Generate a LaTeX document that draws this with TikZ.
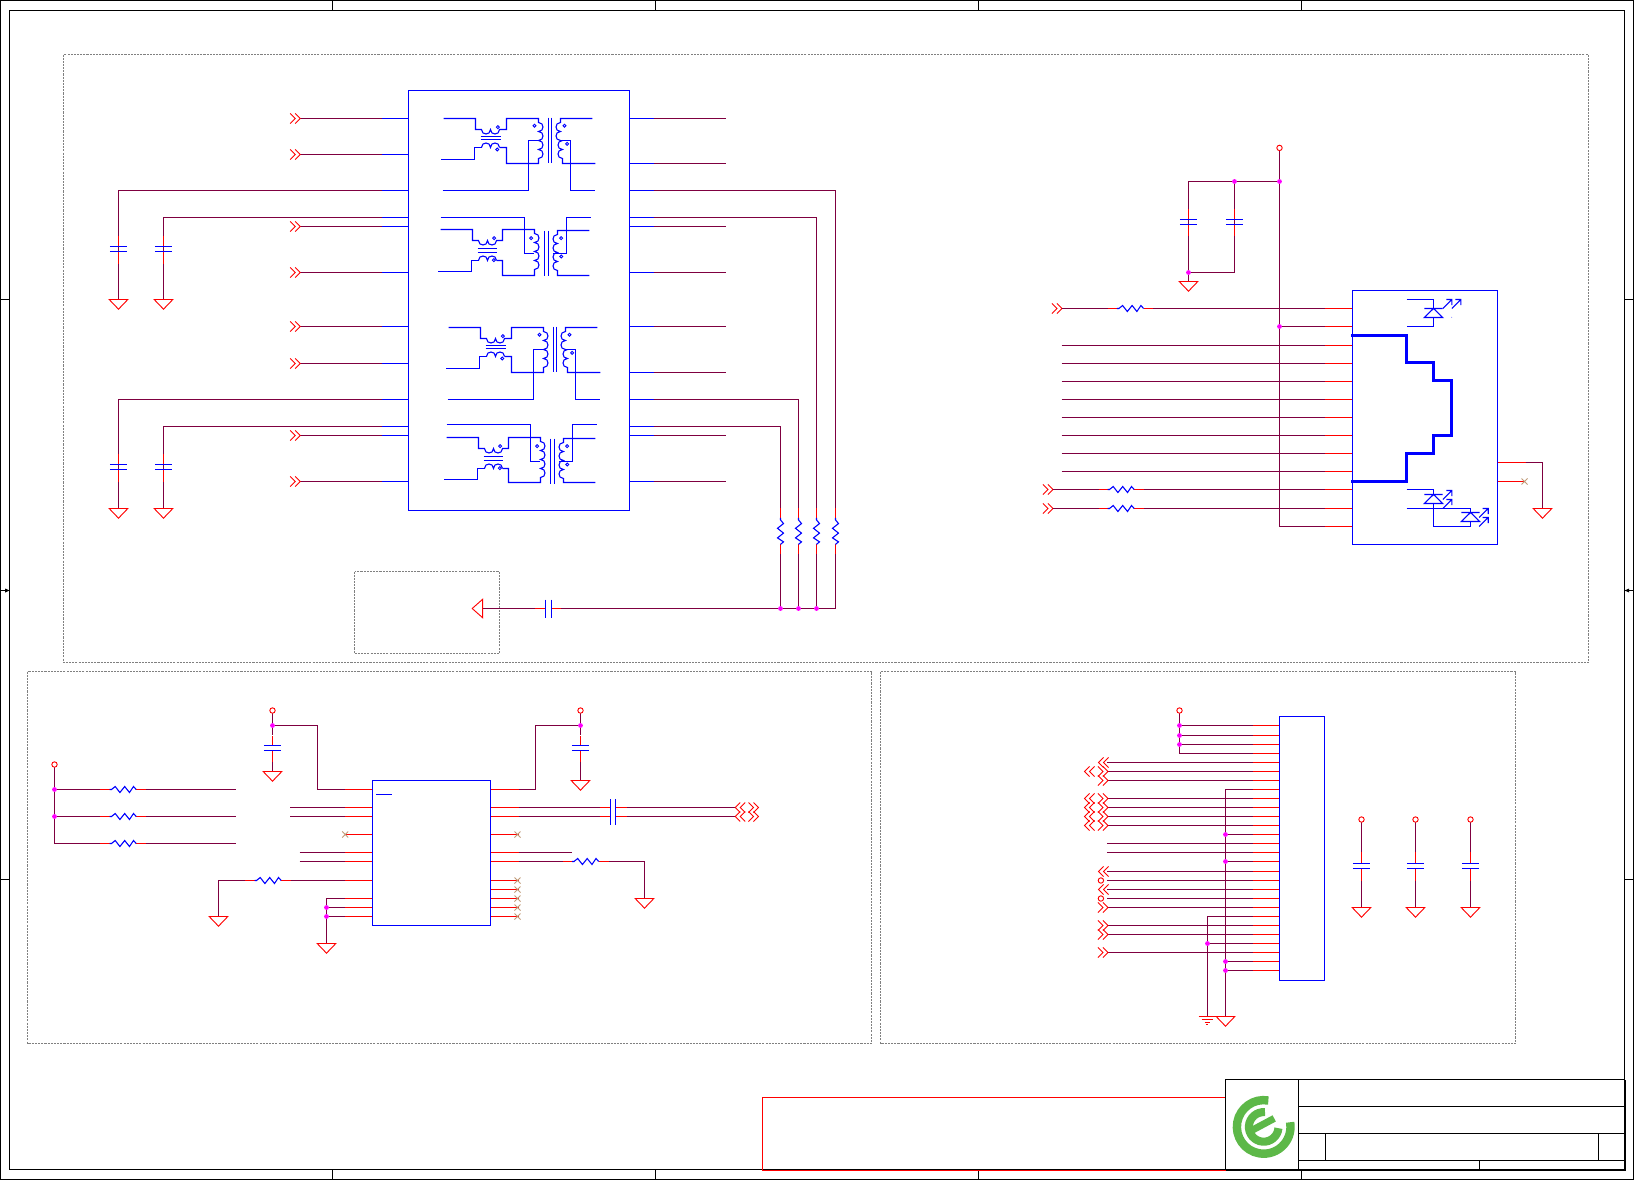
\documentclass[tikz,border=0pt]{standalone}
\definecolor{wirec}{HTML}{7F0040}
\definecolor{sblue}{HTML}{0000FF}
\definecolor{sred}{HTML}{FF0000}
\definecolor{dotc}{HTML}{FF00FF}
\definecolor{ncx}{HTML}{C09A78}
\definecolor{logog}{HTML}{5DB848}
\definecolor{dashg}{HTML}{808080}
\tikzset{
  wire/.style={draw=wirec,line width=0.62pt},
  stub/.style={draw=sred,line width=0.62pt},
  sym/.style={draw=sblue,line width=0.62pt},
  pinb/.style={draw=sblue,line width=0.62pt},
  thickb/.style={draw=sblue,line width=1.75pt},
  redsym/.style={draw=sred,line width=0.52pt},
  frameb/.style={draw=black,line width=0.62pt},
  dashbox/.style={draw=dashg,line width=0.5pt,dash pattern=on 1.2pt off 0.6pt},
  zoomu/.style={x=0.0066667cm,y=-0.0066667cm}
}
\newcommand\bR{.. controls +(18,0) and +(18,0) .. ++(0,27)}
\newcommand\bL{.. controls +(-18,0) and +(-18,0) .. ++(0,27)}
\newcommand\bD{.. controls +(0,18) and +(0,18) .. ++(27,0)}
\newcommand\bU{.. controls +(0,-18) and +(0,-18) .. ++(27,0)}
\newcommand\gnd[2]{\draw[redsym,fill=white] (#1-9.3,#2) -- (#1+9.3,#2) -- (#1,#2+9.7) -- cycle;}
\newcommand\chR[2]{\draw[redsym] (#1-5,#2-5) -- (#1,#2) -- (#1-5,#2+5) (#1-10,#2-5) -- (#1-5,#2) -- (#1-10,#2+5);}
\newcommand\chL[2]{\draw[redsym] (#1+5,#2-5) -- (#1,#2) -- (#1+5,#2+5) (#1+10,#2-5) -- (#1+5,#2) -- (#1+10,#2+5);}
\newcommand\jd[2]{\fill[dotc] (#1,#2) circle[radius=2.4];}
\newcommand\pwr[2]{\draw[redsym,fill=white] (#1,#2) circle[radius=2.7];}
\newcommand\ncmark[2]{\draw[draw=ncx,line width=0.5pt] (#1-3,#2-3) -- (#1+3,#2+3) (#1-3,#2+3) -- (#1+3,#2-3);}
\newcommand\resH[2]{\draw[sym] (#1,#2) -- (#1+2,#2) -- (#1+5.7,#2-3) -- (#1+10.4,#2+3) -- (#1+15.2,#2-3) -- (#1+20,#2+3) -- (#1+24,#2-3) -- (#1+26.7,#2);}
\newcommand\resV[2]{\draw[sym] (#1,#2) -- (#1,#2+2) -- (#1+3,#2+5.7) -- (#1-3,#2+10.4) -- (#1+3,#2+15.2) -- (#1-3,#2+20) -- (#1+3,#2+24) -- (#1,#2+26.5);}
% vertical capacitor: x, plate1, plate2, stub top, stub bottom
\newcommand\capV[5]{\draw[stub] (#1,#4) -- (#1,#2) (#1,#3) -- (#1,#5);
  \draw[sym] (#1-8.7,#2) -- (#1+8.7,#2) (#1-8.7,#3) -- (#1+8.7,#3);}
\newcommand\Tone[2]{
 \begin{scope}[shift={(#1,#2)},zoomu]
  \draw[sym] (0,0) -- (96,0) -- (96,33) -- (114,33) \bD \bD -- (189,33) -- (189,0) -- (285,0) -- (285,12) \bR \bR \bR \bR -- (285,135) -- (189,135) -- (189,87) -- (168,87);
  \draw[sym] (114,87) \bU \bU;
  \draw[sym] (114,87) -- (93,87) -- (93,123) -- (-9,123);
  \draw[sym] (111,54) -- (171,54) (111,63) -- (171,63);
  \draw[sym] (315,-3) -- (315,132) (324,-3) -- (324,132);
  \draw[sym] (-3,216) -- (255,216) -- (255,66) -- (285,66);
  \draw[sym] (447,0) -- (351,0) -- (351,12) \bL \bL;
  \draw[sym] (357,66) \bL \bL -- (357,135) -- (456,135);
  \draw[sym] (351,66) -- (381,66) -- (381,216) -- (456,216);
  \foreach \q/\r in {273/22,363/22,371/76,163/26,161/93} \draw[sym,line width=0.5pt] (\q,\r) circle[radius=4.5];
 \end{scope}}
\newcommand\Ttwo[4]{
 \begin{scope}[shift={(#1,#2)},zoomu]
  \draw[sym] (0,0) -- (96,0) -- (96,33) -- (114,33) \bD \bD -- (186,33) -- (186,0) -- (282,0) -- (282,12) \bR \bR \bR \bR -- (282,#4) -- (186,#4) -- (186,93) -- (168,93);
  \draw[sym] (114,93) \bU \bU;
  \draw[sym] (114,93) -- (93,93) -- (93,126) -- (-9,126);
  \draw[sym] (111,57) -- (168,57) (111,69) -- (168,69);
  \draw[sym] (312,3) -- (312,138) (324,3) -- (324,138);
  \draw[sym] (0,#3) -- (252,#3) -- (252,72) -- (282,72);
  \draw[sym] (447,3) -- (351,3) -- (351,15) \bL \bL \bL \bL -- (351,#4) -- (447,#4);
  \draw[sym] (339,72) -- (378,72) -- (378,#3) -- (453,#3);
  \foreach \q/\r in {272/26,362/26,362/81,161/26,160/92} \draw[sym,line width=0.5pt] (\q,\r) circle[radius=4.5];
 \end{scope}}
% LED: apex x, bar y
\newcommand\ledbody[2]{\draw[sym] (#1-9.2,#2) -- (#1+9.2,#2) (#1,#2) -- (#1+9.2,#2+9) -- (#1-9.2,#2+9) -- cycle;}
\newcommand\ledarrow[2]{\draw[sym] (#1,#2) -- (#1+9,#2-9) (#1+3.5,#2-9) -- (#1+9,#2-9) -- (#1+9,#2-3.5);}
\begin{document}
\begin{tikzpicture}[x=0.02cm,y=-0.02cm]
\useasboundingbox (0,0) rectangle (1634,1180);
\begin{scope}[shift={(0.2,0.2)}]
% ---- frame
\draw[frameb] (0.3,0.3) rectangle (1633.3,1179.3);
\draw[frameb] (9.3,10.3) rectangle (1624.3,1169.3);
\foreach \x in {332.3,655.3,978.3,1301.3} {
  \draw[frameb] (\x,0.3) -- (\x,10.3);
  \draw[frameb] (\x,1169.3) -- (\x,1179.3);
}
\foreach \y in {299.3,879.3} {
  \draw[frameb] (0.3,\y) -- (9.3,\y);
  \draw[frameb] (1624.3,\y) -- (1633.3,\y);
}
\draw[frameb] (0.3,590.3) -- (9.3,590.3);
\fill[black] (9.3,590.3) -- (5,588.3) -- (5,592.3) -- cycle;
\draw[frameb] (1624.3,590.3) -- (1633.3,590.3);
\fill[black] (1624.3,590.3) -- (1629,588.3) -- (1629,592.3) -- cycle;
% ---- dashed sheets
\draw[dashbox] (63.3,54.3) rectangle (1588.3,662.3);
\draw[dashbox] (354.3,571.3) rectangle (499.3,653.3);
\draw[dashbox] (27.3,671.3) rectangle (871.3,1043.3);
\draw[dashbox] (880.3,671.3) rectangle (1515.3,1043.3);
% ---- title block
\draw[stub] (1225.3,1097.3) -- (762.3,1097.3) -- (762.3,1170.3) -- (1225.3,1170.3);
\draw[frameb] (1225.3,1079.3) rectangle (1624.3,1169.3);
\draw[frameb] (1298.3,1079.3) -- (1298.3,1169.3);
\draw[frameb] (1298.3,1106.3) -- (1624.3,1106.3);
\draw[frameb] (1298.3,1133.3) -- (1624.3,1133.3);
\draw[frameb] (1298.3,1160.3) -- (1624.3,1160.3);
\draw[frameb] (1325.3,1133.3) -- (1325.3,1160.3);
\draw[frameb] (1598.3,1133.3) -- (1598.3,1160.3);
\draw[frameb] (1479.3,1160.3) -- (1479.3,1169.3);
\draw[draw=black,line width=1.1pt] (1225.3,1169.6) -- (1625,1169.6) -- (1625,1079.3);
% logo
\begin{scope}[shift={(1263.5,1126.7)},y=0.02cm]
  \draw[draw=logog,line width=4.8pt] (80:26.8) arc[start angle=80,end angle=370,radius=26.8];
  \draw[draw=logog,line width=4.6pt] (85:14.8) arc[start angle=85,end angle=355,radius=14.8];
  \fill[white] (-2.5,8) -- (7,14.5) -- (12,7) -- (2,1) -- cycle;
  \draw[draw=logog,line width=4.0pt] (-11,-3) -- (10.5,8.5);
\end{scope}
% ---- magnetics: wires
\foreach \y in {118.3,154.3,226.3,272.3,326.3,363.3,435.3,481.3} {
  \draw[wire] (300,\y) -- (381.7,\y);
  \chR{300}{\y}
}
\foreach \y/\e in {118.3/726,163.3/726,226.3/726,272.3/726,326.3/726,372.3/726,435.3/726,481.3/726} {
  \draw[wire] (653.3,\y) -- (\e,\y);
}
\foreach \y in {118.3,154.3,190.3,217.3,226.3,272.3,326.3,363.3,399.3,426.3,435.3,481.3} \draw[pinb] (381.7,\y) -- (408.3,\y);
\foreach \y in {118.3,163.3,190.3,217.3,226.3,272.3,326.3,372.3,399.3,426.3,435.3,481.3} \draw[pinb] (629.3,\y) -- (653.3,\y);
% common-mode caps
\draw[wire] (381.7,190.3) -- (118.3,190.3) -- (118.3,299.3);
\draw[wire] (381.7,217.3) -- (163.3,217.3) -- (163.3,299.3);
\draw[wire] (381.7,399.3) -- (118.3,399.3) -- (118.3,508.3);
\draw[wire] (381.7,426.3) -- (163.3,426.3) -- (163.3,508.3);
\foreach \x in {118.3,163.3} {
  \capV{\x}{246.3}{251.3}{235.3}{263.3}
  \capV{\x}{464.3}{469.3}{453.3}{481.3}
  \gnd{\x}{299.3}
  \gnd{\x}{508.3}
}
% termination resistors
\draw[wire] (653.3,190.3) -- (835.3,190.3) -- (835.3,608.3);
\draw[wire] (653.3,217.3) -- (816.3,217.3) -- (816.3,608.3);
\draw[wire] (653.3,399.3) -- (798.3,399.3) -- (798.3,608.3);
\draw[wire] (653.3,426.3) -- (780.3,426.3) -- (780.3,608.3);
\draw[wire] (835.3,608.3) -- (551.3,608.3);
\draw[wire] (545.3,608.3) -- (482.5,608.3);
\foreach \x in {780.3,798.3,816.3,835.3} {
  \draw[stub] (\x,507.7) -- (\x,517.7) (\x,544) -- (\x,553.7);
  \fill[white] (\x-1,517.7) rectangle (\x+1,544);
  \resV{\x}{517.7}
}
\foreach \x in {780.3,798.3,816.3} {\jd{\x}{608.3}}
\draw[stub] (535,608.3) -- (545.3,608.3) (551.3,608.3) -- (561,608.3);
\draw[sym] (545.3,599.3) -- (545.3,617.3) (551.3,599.3) -- (551.3,617.3);
\draw[redsym,fill=white] (472,608.3) -- (482.5,599) -- (482.5,617.6) -- cycle;
% ---- module box
\draw[sym] (408.3,90.3) rectangle (629.3,510.3);
\Tone{443.3}{118.3}
\Ttwo{440.3}{229.3}{-36}{138}
\Tone{448.3}{327.3}
\Ttwo{446.3}{437.3}{-39}{135}
% ---- RJ45 section
\draw[wire] (1279.3,150) -- (1279.3,526.3) -- (1324.3,526.3);
\pwr{1279.3}{147.7}
\draw[wire] (1279.3,181.3) -- (1188.3,181.3) -- (1188.3,281.3);
\draw[wire] (1234.3,181.3) -- (1234.3,272.3) -- (1188.3,272.3);
\capV{1188.3}{219.3}{224.3}{208.3}{235.3}
\capV{1234.3}{219.3}{224.3}{208.3}{235.3}
\gnd{1188.3}{281.3}
\jd{1279.3}{181.3}\jd{1234.3}{181.3}\jd{1188.3}{272.3}
% LED / line pins
\chR{1061.7}{308.3}
\draw[wire] (1061.7,308.3) -- (1107.3,308.3) (1152.7,308.3) -- (1324.3,308.3);
\draw[stub] (1107.3,308.3) -- (1116.7,308.3) (1143.3,308.3) -- (1152.7,308.3);
\resH{1116.7}{308.3}
\draw[wire] (1279.3,326.3) -- (1324.3,326.3);
\jd{1279.3}{326.3}
\foreach \y in {345.3,363.3,381.3,399.3,417.3,435.3,453.3,471.3} \draw[wire] (1061.3,\y) -- (1324.3,\y);
\foreach \y in {489.3,508.3} {
  \chR{1052.7}{\y}
  \draw[wire] (1052.7,\y) -- (1098.3,\y) (1143.3,\y) -- (1324.3,\y);
  \draw[stub] (1098.3,\y) -- (1107.3,\y) (1134,\y) -- (1143.3,\y);
  \resH{1107.3}{\y}
}
\foreach \y in {308.3,326.3,345.3,363.3,381.3,399.3,417.3,435.3,453.3,471.3,489.3,508.3,526.3} \draw[stub] (1324.3,\y) -- (1352.3,\y);
\draw[sym] (1352.3,290.3) rectangle (1497.3,544.3);
\draw[thickb] (1351,335.3) -- (1406.7,335.3) -- (1406.7,362.7) -- (1433.7,362.7) -- (1433.7,380.7) -- (1451.7,380.7) -- (1451.7,435) -- (1433.7,435) -- (1433.7,453) -- (1406.7,453) -- (1406.7,481) -- (1351,481);
% LED 1
\draw[sym] (1406.3,299.3) -- (1433.3,299.3) -- (1433.3,308.3);
\draw[sym] (1433.3,317.3) -- (1433.3,326.3) -- (1406.3,326.3);
\ledbody{1433.3}{308.3}
\ledarrow{1442.7}{308.3}
\ledarrow{1451.7}{308.3}
\fill[sblue] (1451.5,317) circle[radius=0.4];
% LED 2, 3
\draw[sym] (1406.3,489.3) -- (1433.3,489.3) -- (1433.3,494.3);
\draw[sym] (1406.3,508.3) -- (1470.3,508.3) -- (1470.3,512.3);
\draw[sym] (1433.3,503.3) -- (1433.3,526.3) -- (1470.3,526.3) -- (1470.3,521.3);
\ledbody{1433.3}{494.3}
\ledbody{1470.3}{512.3}
\ledarrow{1442.7}{499.3}
\ledarrow{1442.7}{508.3}
\ledarrow{1479}{517.3}
\ledarrow{1479}{526.3}
% shield
\draw[stub] (1497.3,462.3) -- (1525.3,462.3);
\draw[wire] (1525.3,462.3) -- (1542.3,462.3) -- (1542.3,508.3);
\gnd{1542.3}{508.3}
\draw[stub] (1497.3,481.3) -- (1524.3,481.3);
\ncmark{1524.3}{481.3}
% ---- Section: PHY
\draw[wire] (54.3,767) -- (54.3,843.3);
\pwr{54.3}{764.3}
\foreach \y in {789.3,816.3,843.3} {
  \draw[wire] (54.3,\y) -- (100,\y) (146,\y) -- (236,\y);
  \draw[stub] (100,\y) -- (109.3,\y) (136,\y) -- (146,\y);
  \resH{109.3}{\y}
}
\jd{54.3}{789.3}\jd{54.3}{816.3}
\draw[wire] (272.3,713) -- (272.3,735) (272.3,761.7) -- (272.3,771.3);
\pwr{272.3}{710.3}
\capV{272.3}{745.3}{750.3}{735.3}{761.3}
\gnd{272.3}{771.3}
\draw[wire] (272.3,725.3) -- (317.3,725.3) -- (317.3,789.3) -- (345,789.3);
\jd{272.3}{725.3}
\foreach \y in {807.3,816.3} \draw[wire] (290,\y) -- (345,\y);
\foreach \y in {852.3,861.3} \draw[wire] (299.3,\y) -- (345,\y);
\draw[wire] (218.3,916.3) -- (218.3,880.3) -- (245,880.3) (290.7,880.3) -- (345,880.3);
\draw[stub] (245,880.3) -- (254.3,880.3) (281,880.3) -- (290.7,880.3);
\resH{254.3}{880.3}
\gnd{218.3}{916.3}
\draw[wire] (345,898.3) -- (326.3,898.3) -- (326.3,943.3);
\draw[wire] (326.3,907.3) -- (345,907.3) (326.3,916.3) -- (345,916.3);
\jd{326.3}{907.3}\jd{326.3}{916.3}
\gnd{326.3}{943.3}
\foreach \y in {789.3,807.3,816.3,834.3,852.3,861.3,880.3,898.3,907.3,916.3} \draw[stub] (345,\y) -- (372.3,\y);
\ncmark{345}{834.3}
\foreach \y in {789.3,807.3,816.3,834.3,852.3,861.3,880.3,889.3,898.3,907.3,916.3} \draw[stub] (490.3,\y) -- (518.3,\y);
\foreach \y in {834.3,880.3,889.3,898.3,907.3,916.3} {\ncmark{517.3}{\y}}
\draw[sym] (372.3,780.3) rectangle (490.3,925.3);
\draw[sym] (376,794.3) -- (392,794.3);
\draw[wire] (518.3,789.3) -- (535.3,789.3) -- (535.3,725.3) -- (580.3,725.3);
\draw[wire] (580.3,713) -- (580.3,735) (580.3,761.7) -- (580.3,780.3);
\pwr{580.3}{710.3}
\jd{580.3}{725.3}
\capV{580.3}{745.3}{750.3}{735.3}{761.3}
\gnd{580.3}{780.3}
\foreach \y in {807.3,816.3} {
  \draw[wire] (518.3,\y) -- (599.3,\y) (626.3,\y) -- (735,\y);
  \draw[stub] (599.3,\y) -- (610.3,\y) (615.3,\y) -- (626.3,\y);
  \chL{735}{\y}
  \chR{758.3}{\y}
}
\draw[sym] (610.3,799) -- (610.3,824.3) (615.3,799) -- (615.3,824.3);
\draw[wire] (518.3,852.3) -- (571.7,852.3);
\draw[wire] (518.3,861.3) -- (562.7,861.3) (608.3,861.3) -- (644.3,861.3) -- (644.3,898.3);
\draw[stub] (562.7,861.3) -- (572,861.3) (598.3,861.3) -- (608.3,861.3);
\resH{571.8}{861.3}
\gnd{644.3}{898.3}
% ---- Section: connector
\draw[wire] (1179.3,712.6) -- (1179.3,753.3);
\pwr{1179.3}{710.3}
\foreach \y in {725.3,735.3,744.3,753.3} \draw[wire] (1179.3,\y) -- (1252.3,\y);
\jd{1179.3}{725.3}\jd{1179.3}{735.3}\jd{1179.3}{744.3}
\foreach \y in {762.3,771.3,780.3,798.3,807.3,816.3,825.3,843.3,852.3,871.3,880.3,889.3,898.3,907.3,925.3,934.3,952.3} \draw[wire] (1106.7,\y) -- (1252.3,\y);
\chL{1098.3}{762.3}
\chL{1084.3}{771.3}
\chR{1107.7}{771.3}
\chR{1107.7}{780.3}
\foreach \y in {798.3,807.3,816.3,825.3} {\chL{1084.3}{\y}\chR{1107.7}{\y}}
\chL{1098.3}{871.3}
\pwr{1100.7}{880.3}
\chL{1098.3}{889.3}
\pwr{1100.7}{898.3}
\chR{1107.7}{907.3}
\chR{1107.7}{925.3}
\chR{1107.7}{934.3}
\chR{1107.7}{952.3}
\draw[wire] (1252.3,789.3) -- (1225.3,789.3) -- (1225.3,1016.3);
\foreach \y in {834.3,861.3,961.3,970.3} {\draw[wire] (1225.3,\y) -- (1252.3,\y);\jd{1225.3}{\y}}
\draw[wire] (1252.3,916.3) -- (1207.3,916.3) -- (1207.3,1016.3);
\draw[wire] (1207.3,943.3) -- (1252.3,943.3);
\jd{1207.3}{943.3}
\foreach \y in {725.3,735.3,744.3,753.3,762.3,771.3,780.3,789.3,798.3,807.3,816.3,825.3,834.3,843.3,852.3,861.3,871.3,880.3,889.3,898.3,907.3,916.3,925.3,934.3,943.3,952.3,961.3,970.3} \draw[stub] (1252.3,\y) -- (1279.3,\y);
\draw[sym] (1279.3,716.3) rectangle (1324.3,980.3);
\gnd{1225.3}{1016.3}
\draw[redsym] (1198.3,1016.3) -- (1215.3,1016.3) (1201.3,1019.3) -- (1212.3,1019.3) (1204.3,1022.3) -- (1209.3,1022.3) (1206,1024.6) -- (1208,1024.6);
% decoupling caps
\foreach \x in {1361.3,1415.3,1470.3} {
  \draw[wire] (\x,821.5) -- (\x,851.7) (\x,880.7) -- (\x,907.3);
  \pwr{\x}{819.3}
  \capV{\x}{863.3}{868.3}{851.3}{880.3}
  \gnd{\x}{907.3}
}
\end{scope}
\end{tikzpicture}
\end{document}
